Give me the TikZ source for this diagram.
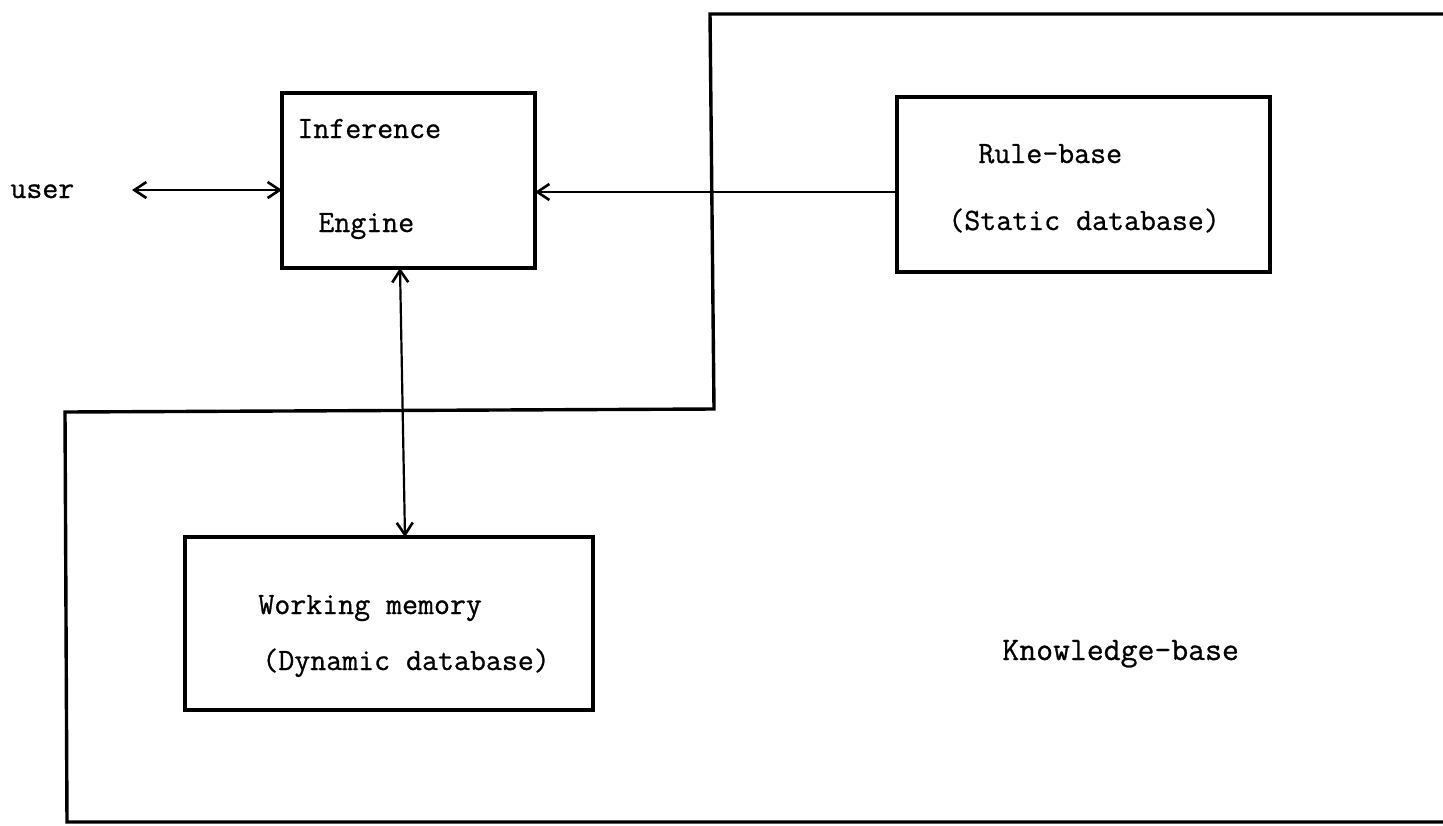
\documentclass[tikz,border=0pt]{standalone}
\usepackage{fontspec}
\newfontfamily\typewriter[FakeBold=0.8]{Latin Modern Mono}
\usetikzlibrary{arrows.meta}

\tikzset{
  box/.style={draw, line width=1.6pt, inner sep=0pt, outer sep=0pt},
  label text/.style={font=\typewriter\fontsize{15.5}{18}\selectfont, inner sep=0pt, anchor=base west},
  link/.style={line width=1.1pt, arrows={Straight Barb[length=6pt,width=8pt,line width=1.3pt]-Straight Barb[length=6pt,width=8pt,line width=1.3pt]}},
  one way/.style={line width=1.1pt, -{Straight Barb[length=6pt,width=8pt,line width=1.3pt]}},
  outline/.style={line width=1.7pt}
}

\begin{document}
\begin{tikzpicture}[x=0.5pt, y=-0.5pt]
  \useasboundingbox (0,0) rectangle (1443,825);

  % boxes
  \node[box, minimum width=126.5pt, minimum height=87.5pt] (ie) at (408.5,180.5) {};
  \node[box, minimum width=186.5pt, minimum height=87.5pt] (rb) at (1083.5,184.5) {};
  \node[box, minimum width=204pt, minimum height=86.5pt] (wm) at (389,623.5) {};

  % box texts
  \node[label text] (ie1) at (297,138) {Inference};
  \node[label text] (ie2) at (318,232) {Engine};
  \node[label text] (rb1) at (978,163) {Rule-base};
  \node[label text] (rb2) at (948,230) {(Static database)};
  \node[label text] (wm1) at (258,614) {Working memory};
  \node[label text] (wm2) at (262,670) {(Dynamic database)};
  \node[label text, font=\typewriter\fontsize{16.4}{19}\selectfont] (kb) at (1002,660) {Knowledge-base};
  \node[label text] (user) at (10,198) {user};

  % knowledge-base outline
  \draw[outline] (1443,14) -- (710,14) -- (714,409) -- (65,412) -- (67,822) -- (1443,822);

  % connectors
  \coordinate (ua) at (132,190);
  \draw[link] (ua) -- (ua -| ie.west);
  \draw[one way] ([yshift=-3.75pt]rb.west) -- ([yshift=-3.75pt]rb.west -| ie.east);
  \draw[link] ([xshift=-4.25pt]ie.south) -- ([xshift=8pt]wm.north);
\end{tikzpicture}
\end{document}
